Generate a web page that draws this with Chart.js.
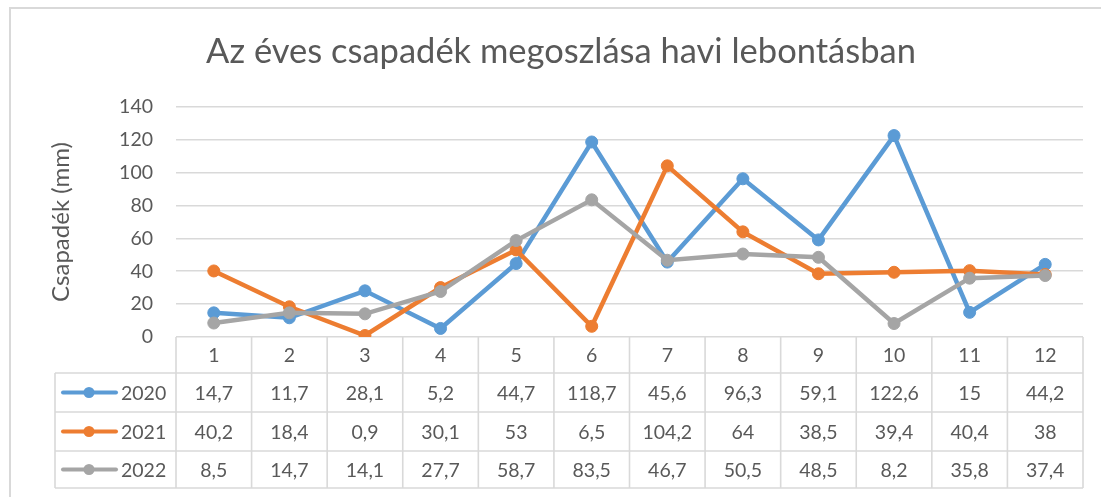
<!DOCTYPE html>
<html>
<head>
<meta charset="utf-8">
<script src="https://cdn.jsdelivr.net/npm/chart.js@4/dist/chart.umd.min.js"></script>
<style>
  html, body { margin: 0; padding: 0; background: #fff; }
  #wrap { width: 1101px; height: 497px; position: relative; }
</style>
</head>
<body>
<div id="wrap"><canvas id="c" width="1101" height="497"></canvas></div>
<script>
const chartTitle = 'Az éves csapadék megoszlása havi lebontásban';
const yAxisTitle = 'Csapadék (mm)';
const months = ['1','2','3','4','5','6','7','8','9','10','11','12'];
const seriesNames = ['2020', '2021', '2022'];
const values2020 = [14.7, 11.7, 28.1, 5.2, 44.7, 118.7, 45.6, 96.3, 59.1, 122.6, 15, 44.2];
const values2021 = [40.2, 18.4, 0.9, 30.1, 53, 6.5, 104.2, 64, 38.5, 39.4, 40.4, 38];
const values2022 = [8.5, 14.7, 14.1, 27.7, 58.7, 83.5, 46.7, 50.5, 48.5, 8.2, 35.8, 37.4];
const yTicks = [0, 20, 40, 60, 80, 100, 120, 140];

const colors = ['#5B9BD5', '#ED7D31', '#A5A5A5'];
const allValues = [values2020, values2021, values2022];
const textColor = '#595959';
const gridColor = '#D9D9D9';
const FONT = 'Lato, "Open Sans", sans-serif';

const fmt = v => String(v).replace('.', ',');

const tablePlugin = {
  id: 'tablePlugin',
  beforeDraw(chart) {
    const ctx = chart.ctx;
    ctx.save();
    ctx.fillStyle = '#fff';
    ctx.fillRect(0, 0, chart.width, chart.height);
    ctx.strokeStyle = gridColor;
    ctx.lineWidth = 2;
    ctx.beginPath();
    ctx.moveTo(10, chart.height + 2);
    ctx.lineTo(10, 8);
    ctx.lineTo(chart.width + 2, 8);
    ctx.stroke();
    // title
    ctx.fillStyle = textColor;
    ctx.font = '34.5px ' + FONT;
    ctx.textAlign = 'center';
    ctx.textBaseline = 'middle';
    ctx.fillText(chartTitle, 561, 52);
    // y title
    ctx.save();
    ctx.translate(61, 222);
    ctx.rotate(-Math.PI / 2);
    ctx.font = '24px ' + FONT;
    ctx.fillText(yAxisTitle, 0, 0);
    ctx.restore();
    ctx.restore();
  },
  beforeDatasetsDraw(chart) {
    const ctx = chart.ctx;
    const xs = chart.scales.x;
    const ca = chart.chartArea;
    const n = months.length;
    const bounds = [ca.left];
    for (let i = 1; i < n; i++) {
      bounds.push((xs.getPixelForValue(i - 1) + xs.getPixelForValue(i)) / 2);
    }
    bounds.push(ca.right);
    const top = ca.bottom;
    const rows = [top, top + 36, top + 75, top + 114, top + 151];
    const legLeft = 55;
    ctx.save();
    ctx.strokeStyle = gridColor;
    ctx.lineWidth = 1.6;
    ctx.beginPath();
    for (let r = 1; r < rows.length; r++) {
      ctx.moveTo(legLeft, rows[r]);
      ctx.lineTo(ca.right, rows[r]);
    }
    for (let i = 0; i < bounds.length; i++) {
      ctx.moveTo(bounds[i], rows[0]);
      ctx.lineTo(bounds[i], rows[4]);
    }
    ctx.moveTo(legLeft, rows[1]);
    ctx.lineTo(legLeft, rows[4]);
    ctx.stroke();

    ctx.fillStyle = textColor;
    ctx.font = '19.5px ' + FONT;
    ctx.textAlign = 'center';
    ctx.textBaseline = 'middle';
    for (let i = 0; i < n; i++) {
      const cx = xs.getPixelForValue(i);
      ctx.fillText(months[i], cx, (rows[0] + rows[1]) / 2 + 1);
      for (let s = 0; s < allValues.length; s++) {
        ctx.fillText(fmt(allValues[s][i]), cx, (rows[s + 1] + rows[s + 2]) / 2 + 1);
      }
    }
    for (let s = 0; s < seriesNames.length; s++) {
      const cy = (rows[s + 1] + rows[s + 2]) / 2;
      ctx.strokeStyle = colors[s];
      ctx.lineWidth = 4;
      ctx.lineCap = 'round';
      ctx.beginPath();
      ctx.moveTo(63, cy);
      ctx.lineTo(116, cy);
      ctx.stroke();
      ctx.fillStyle = colors[s];
      ctx.beginPath();
      ctx.arc(89, cy, 5.5, 0, Math.PI * 2);
      ctx.fill();
      ctx.fillStyle = textColor;
      ctx.textAlign = 'left';
      ctx.fillText(seriesNames[s], 121, cy + 1);
    }
    ctx.restore();
  }
};

const datasets = seriesNames.map((name, s) => ({
  label: name,
  data: allValues[s],
  borderColor: colors[s],
  backgroundColor: colors[s],
  pointBackgroundColor: colors[s],
  pointBorderColor: colors[s],
  pointBorderWidth: 1,
  pointRadius: 6,
  borderWidth: 4.5,
  tension: 0,
  fill: false,
  order: 2 - s
}));

new Chart(document.getElementById('c'), {
  type: 'line',
  data: { labels: months, datasets },
  options: {
    responsive: false,
    animation: false,
    events: [],
    layout: { padding: { left: 0, right: 18, top: 107, bottom: 160 } },
    plugins: { legend: { display: false }, title: { display: false }, tooltip: { enabled: false } },
    scales: {
      x: {
        type: 'category',
        offset: true,
        display: false
      },
      y: {
        min: 0,
        max: 140,
        afterBuildTicks(scale) { scale.ticks = yTicks.map(v => ({ value: v })); },
        afterFit(scale) { scale.width = 176; },
        border: { display: false },
        grid: { color: gridColor, lineWidth: 1.6, drawTicks: false },
        ticks: {
          padding: 23,
          color: textColor,
          font: { family: FONT, size: 19.5 }
        }
      }
    }
  },
  plugins: [tablePlugin]
});
</script>
</body>
</html>
